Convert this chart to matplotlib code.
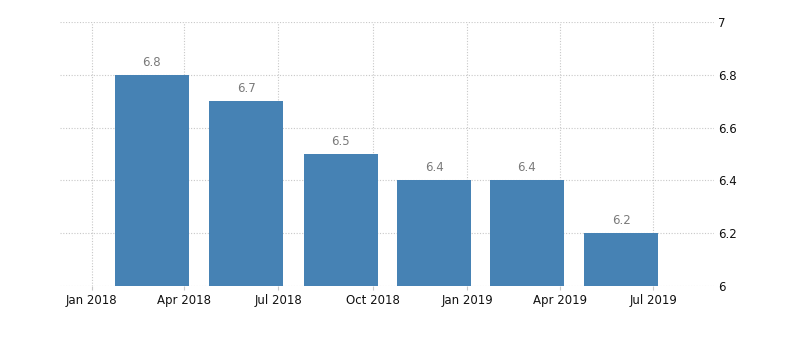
"""Quarterly bar chart with values annotated above each bar."""

import matplotlib

matplotlib.use("Agg")

import matplotlib.dates as mdates
import matplotlib.pyplot as plt
import pandas as pd

# Data: one bar per quarter
bar_dates = ["2018-02-28", "2018-05-31", "2018-08-31", "2018-11-30", "2019-02-28", "2019-05-31"]
values = [6.8, 6.7, 6.5, 6.4, 6.4, 6.2]

tick_dates = ["2018-01-01", "2018-04-01", "2018-07-01", "2018-10-01", "2019-01-01", "2019-04-01", "2019-07-01"]
tick_labels = ["Jan 2018", "Apr 2018", "Jul 2018", "Oct 2018", "Jan 2019", "Apr 2019", "Jul 2019"]
y_ticks = [6, 6.2, 6.4, 6.6, 6.8, 7]
y_tick_labels = ["6", "6.2", "6.4", "6.6", "6.8", "7"]

BAR_COLOR = "#4682b4"
GRID_COLOR = "#c8c8c8"

plt.rcParams["font.family"] = ["DejaVu Sans"]

x = mdates.date2num(pd.to_datetime(bar_dates))

fig = plt.figure(figsize=(8.0, 3.41), dpi=100)
ax = fig.add_axes([0.075, 0.1613, 0.8175, 0.7742])

ax.bar(x, values, width=72, color=BAR_COLOR, zorder=2)

for xi, val in zip(x, values):
    ax.annotate(
        f"{val:g}",
        (xi, val),
        xytext=(0, 9),
        textcoords="offset points",
        ha="center",
        va="center",
        fontsize=8.5,
        color="#7a7a7a",
    )

ax.set_xlim(mdates.date2num(pd.Timestamp("2017-12-01")), mdates.date2num(pd.Timestamp("2019-08-29")))
ax.set_ylim(6, 7)

ax.set_xticks(mdates.date2num(pd.to_datetime(tick_dates)))
ax.set_xticklabels(tick_labels)
ax.set_yticks(y_ticks)
ax.set_yticklabels(y_tick_labels)

ax.yaxis.tick_right()
ax.tick_params(axis="y", length=0, pad=3, labelsize=8.5, labelcolor="#111111")
ax.tick_params(axis="x", length=3, width=0.8, color=GRID_COLOR, pad=3, labelsize=8.5, labelcolor="#111111")

ax.grid(True, linestyle=(0, (1, 1.5)), color=GRID_COLOR, linewidth=0.8, zorder=0)
ax.set_axisbelow(True)

for spine in ax.spines.values():
    spine.set_visible(False)

fig.savefig("out.png", dpi=100)
plt.close(fig)
